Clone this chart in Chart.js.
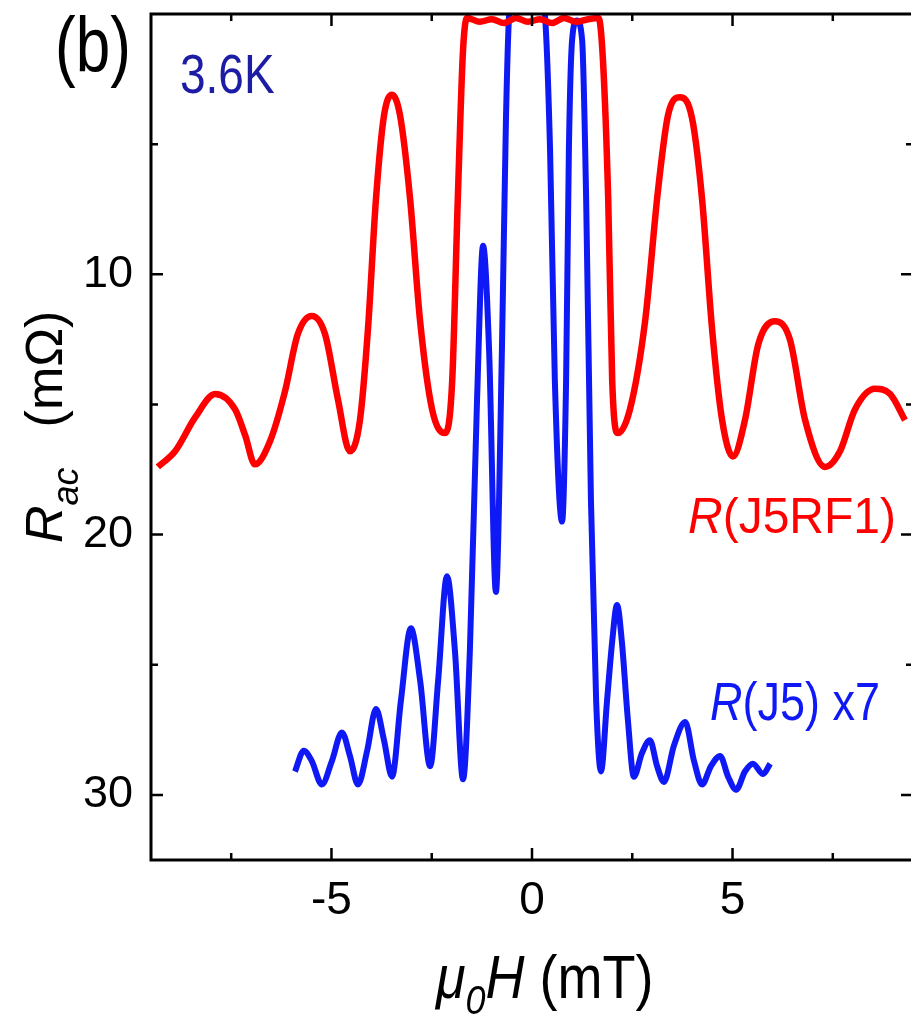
<!DOCTYPE html>
<html>
<head>
<meta charset="utf-8">
<script src="https://cdn.jsdelivr.net/npm/chart.js@4.4.1/dist/chart.umd.min.js"></script>
<style>
  html, body { margin: 0; padding: 0; background: #fff; overflow: hidden; }
  #wrap { position: relative; width: 914px; height: 1019px; }
</style>
</head>
<body>
<div id="wrap"><canvas id="fraunhoferChart" width="914" height="1019"></canvas></div>
<script>
// J5RF1 trace: field (mT) and Rac (mOhm)
const rf1Field = [-9.33, -8.9, -8.4, -7.9, -7.4, -7.15, -6.91, -6.53, -6.16, -5.84, -5.49, -5.16, -4.84, -4.54,
  -4.29, -4.09, -3.89, -3.69, -3.49, -3.29, -3.04, -2.79, -2.49, -2.17, -1.99, -1.85, -1.72, -1.62,
  -1.3, -1.0, -0.7, -0.4, -0.1, 0.2, 0.5, 0.8, 1.1, 1.4, 1.66, 1.77, 1.9, 2.0, 2.14, 2.44, 2.82,
  3.14, 3.39, 3.69, 3.99, 4.24, 4.49, 4.74, 5.01, 5.31, 5.64, 6.06, 6.43, 6.81, 7.31, 7.68, 8.05,
  8.55, 8.93, 9.3];
const rf1Res = [17.4, 16.8, 15.5, 14.6, 15.2, 16.2, 17.3, 16.4, 14.5, 12.3, 11.6, 12.3, 14.8, 16.8,
  15.6, 12.1, 7.1, 3.9, 3.1, 3.9, 7.1, 11.8, 15.2, 16.1, 14.1, 7.1, 1.4, 0.15,
  0.3, 0.2, 0.35, 0.15, 0.3, 0.2, 0.35, 0.15, 0.3, 0.2, 0.15, 1.8, 7.1, 14.1, 16.1, 15.2, 11.8,
  6.8, 3.9, 3.2, 4.0, 7.1, 12.1, 15.6, 17.0, 15.6, 12.7, 11.8, 12.5, 15.6, 17.4, 16.8, 15.2,
  14.4, 14.6, 15.6];

// J5 trace (scaled x7): field (mT) and Rac (mOhm)
const j5Field = [-5.91, -5.69, -5.49, -5.24, -4.99, -4.74, -4.54, -4.34, -4.11, -3.89, -3.69, -3.49,
  -3.27, -3.02, -2.79, -2.54, -2.34, -2.12, -1.92, -1.72, -1.55, -1.37, -1.22, -1.07, -0.9, -0.75,
  -0.65, -0.57, -0.4, 0.0, 0.32, 0.45, 0.57, 0.75, 0.85, 0.92, 1.0, 1.12, 1.25, 1.35, 1.47, 1.6,
  1.72, 1.87, 2.0, 2.12, 2.24, 2.39, 2.54, 2.74, 2.94, 3.12, 3.29, 3.54, 3.82, 4.04, 4.24, 4.46,
  4.69, 4.89, 5.09, 5.31, 5.51, 5.76, 5.94];
const j5Res = [29.1, 28.3, 28.7, 29.6, 28.7, 27.6, 28.5, 29.6, 28.3, 26.7, 27.9, 29.3,
  26.4, 23.6, 25.6, 28.9, 25.6, 21.6, 24.5, 29.4, 24.5, 14.8, 8.9, 12.9, 22.2, 12.9,
  4.1, 0.0, -1.5, -2.0, 0.0, 5.2, 14.1, 19.5, 14.1, 5.2, 1.0, 0.25, 1.0, 7.1, 18.7, 26.4,
  29.1, 26.4, 24.1, 22.7, 24.1, 27.1, 29.3, 28.4, 27.9, 28.9, 29.5, 28.1, 27.2, 28.7, 29.6, 28.9,
  28.5, 29.3, 29.8, 29.1, 28.8, 29.2, 28.8];

const xTickValues = [-5, 0, 5];
const xMinorValues = [-7.5, -2.5, 2.5, 7.5];
const yTickValues = [10, 20, 30];
const yMinorValues = [5, 15, 25];

const FONT = "'Liberation Sans', Arial, Helvetica, sans-serif";
const RED = '#ff0000';
const BLUE = 'rgb(15, 25, 245)';
const NAVY = 'rgb(28, 28, 165)';

function toPoints(xs, ys) {
  return xs.map((x, i) => ({ x: x, y: ys[i] }));
}

// draws a row of text pieces with different fonts, optionally stretched vertically
function drawRuns(ctx, runs, x, y, sy) {
  ctx.save();
  ctx.translate(x, y);
  ctx.scale(1, sy || 1);
  let cx = 0;
  for (const r of runs) {
    ctx.font = r.font;
    ctx.fillStyle = r.color || '#000';
    ctx.fillText(r.text, cx + (r.dx || 0), r.dy || 0);
    cx += ctx.measureText(r.text).width + (r.dx || 0);
  }
  ctx.restore();
}

// box frame with inward ticks on all four sides, plus the text annotations
const framePlugin = {
  id: 'frameTicks',
  afterDraw(chart) {
    const ctx = chart.ctx;
    const a = chart.chartArea;
    const xs = chart.scales.x;
    const ys = chart.scales.y;
    ctx.save();
    ctx.strokeStyle = '#000';
    ctx.lineWidth = 3;
    ctx.strokeRect(a.left, a.top, a.right - a.left, a.bottom - a.top);

    ctx.lineWidth = 2.5;
    const tick = (vals, len) => {
      vals.forEach(v => {
        const px = xs.getPixelForValue(v);
        ctx.beginPath();
        ctx.moveTo(px, a.bottom); ctx.lineTo(px, a.bottom - len);
        ctx.moveTo(px, a.top); ctx.lineTo(px, a.top + len);
        ctx.stroke();
      });
    };
    const ytick = (vals, len) => {
      vals.forEach(v => {
        const py = ys.getPixelForValue(v);
        ctx.beginPath();
        ctx.moveTo(a.left, py); ctx.lineTo(a.left + len, py);
        ctx.moveTo(a.right, py); ctx.lineTo(a.right - len, py);
        ctx.stroke();
      });
    };
    tick(xTickValues, 12);
    tick(xMinorValues, 7);
    ytick(yTickValues, 12);
    ytick(yMinorValues, 7);
    ctx.restore();

    ctx.save();
    ctx.textBaseline = 'alphabetic';
    drawRuns(ctx, [{ text: '(b)', font: `62px ${FONT}` }], 55, 72, 1.25);
    drawRuns(ctx, [{ text: '3.6K', font: `46px ${FONT}`, color: NAVY }], 180, 93, 1.2);
    drawRuns(ctx, [
      { text: 'R', font: `italic 48px ${FONT}`, color: RED },
      { text: '(J5RF1)', font: `48px ${FONT}`, color: RED }
    ], 688, 533, 1.05);
    drawRuns(ctx, [
      { text: 'R', font: `italic 45px ${FONT}`, color: BLUE },
      { text: '(J5) x7', font: `45px ${FONT}`, color: BLUE }
    ], 710, 720, 1.2);

    // x axis title
    drawRuns(ctx, [
      { text: '\u03bc', font: `italic 54px ${FONT}` },
      { text: '0', font: `italic 36px ${FONT}`, dy: 14 },
      { text: 'H', font: `italic 54px ${FONT}` },
      { text: ' (mT)', font: `54px ${FONT}` }
    ], 436, 998, 1.12);

    // y axis title, rotated
    ctx.save();
    ctx.translate(62, 543);
    ctx.rotate(-Math.PI / 2);
    drawRuns(ctx, [
      { text: 'R', font: `italic 52px ${FONT}` },
      { text: 'ac', font: `italic 36px ${FONT}`, dy: 16 },
      { text: '(m\u03a9)', font: `52px ${FONT}`, dx: 40 }
    ], 0, 0, 1);
    ctx.restore();
    ctx.restore();
  }
};

const ctx = document.getElementById('fraunhoferChart');
new Chart(ctx, {
  type: 'line',
  data: {
    datasets: [{
      label: 'R(J5RF1)',
      data: toPoints(rf1Field, rf1Res),
      borderColor: RED,
      borderWidth: 6.5,
      pointRadius: 0,
      fill: false,
      cubicInterpolationMode: 'monotone'
    }, {
      label: 'R(J5) x7',
      data: toPoints(j5Field, j5Res),
      borderColor: BLUE,
      borderWidth: 6,
      pointRadius: 0,
      fill: false,
      cubicInterpolationMode: 'monotone'
    }]
  },
  options: {
    responsive: false,
    animation: false,
    layout: { padding: { top: 14, right: 1, left: 0, bottom: 0 } },
    plugins: {
      legend: { display: false },
      tooltip: { enabled: false }
    },
    scales: {
      x: {
        type: 'linear',
        min: -9.5,
        max: 9.5,
        grid: { display: false, drawTicks: false },
        border: { display: false },
        afterBuildTicks: s => { s.ticks = xTickValues.map(v => ({ value: v })); },
        afterFit: s => { s.height = 159; s.paddingLeft = 0; s.paddingRight = 0; },
        ticks: {
          font: { family: FONT, size: 46 },
          color: '#000',
          padding: 14,
          maxRotation: 0
        }
      },
      y: {
        type: 'linear',
        reverse: true,
        min: 0,
        max: 32.5,
        grid: { display: false, drawTicks: false },
        border: { display: false },
        afterBuildTicks: s => { s.ticks = yTickValues.map(v => ({ value: v })); },
        afterFit: s => { s.width = 151; s.paddingTop = 0; s.paddingBottom = 0; },
        ticks: {
          font: { family: FONT, size: 45 },
          color: '#000',
          padding: 18
        }
      }
    }
  },
  plugins: [framePlugin]
});
</script>
</body>
</html>
